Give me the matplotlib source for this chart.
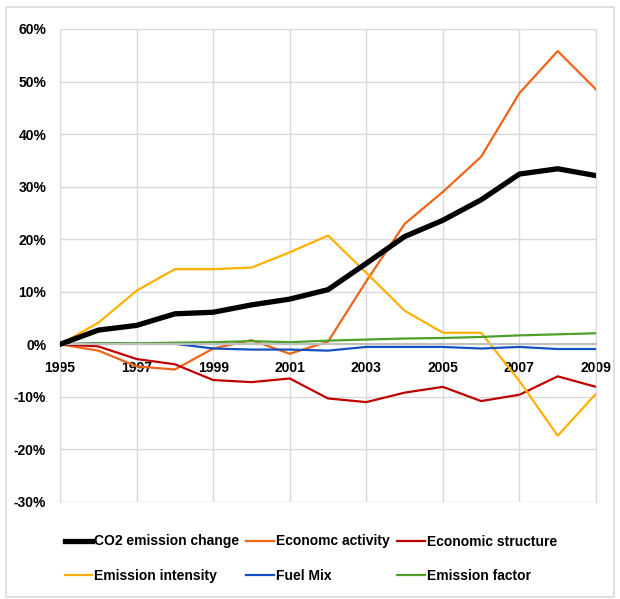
import matplotlib
matplotlib.use('Agg')
import matplotlib.pyplot as plt
from matplotlib.ticker import FuncFormatter
from matplotlib.patches import Rectangle

plt.rcParams['font.family'] = ['Liberation Sans', 'DejaVu Sans']
plt.rcParams['font.weight'] = 'bold'

# data (percent change vs 1995)
years = list(range(1995, 2010))
co2_change = [0, 2.7, 3.6, 5.8, 6.1, 7.5, 8.6, 10.4, 15.4, 20.5, 23.6, 27.5, 32.4, 33.4, 32.1]
econ_activity = [0, -1.2, -4.2, -4.8, -0.8, 0.8, -1.8, 0.5, 12.0, 22.9, 29.0, 35.7, 47.8, 55.8, 48.5]
econ_structure = [0, -0.4, -2.8, -3.8, -6.8, -7.2, -6.5, -10.3, -11.0, -9.2, -8.1, -10.8, -9.6, -6.1, -8.1]
emission_intensity = [0, 4.1, 10.2, 14.3, 14.3, 14.6, 17.5, 20.7, 13.6, 6.4, 2.2, 2.2, -7.0, -17.4, -9.4]
fuel_mix = [0, 0.2, 0.1, 0.1, -0.8, -1.0, -1.0, -1.2, -0.5, -0.5, -0.5, -0.8, -0.5, -0.9, -0.9]
emission_factor = [0, 0.2, 0.2, 0.3, 0.4, 0.6, 0.4, 0.7, 0.9, 1.1, 1.2, 1.4, 1.7, 1.9, 2.1]

fig = plt.figure(figsize=(6.2, 5.99), dpi=100)
ax = fig.add_axes([0.0968, 0.162, 0.8645, 0.7896])

l_co2, = ax.plot(years, co2_change, color='black', lw=3.8, label='CO2 emission change', zorder=5)
l_act, = ax.plot(years, econ_activity, color='#EE6418', lw=1.6, label='Economc activity')
l_str, = ax.plot(years, econ_structure, color='#C00000', lw=1.6, label='Economic structure')
l_int, = ax.plot(years, emission_intensity, color='#FFB000', lw=1.6, label='Emission intensity')
l_fuel, = ax.plot(years, fuel_mix, color='#1450C0', lw=1.6, label='Fuel Mix')
l_fac, = ax.plot(years, emission_factor, color='#4EA02A', lw=1.6, label='Emission factor')

ax.set_xlim(1995, 2009)
ax.set_ylim(-30, 60)
ax.set_xticks(range(1995, 2010, 2))
ax.set_yticks(range(-30, 61, 10))
ax.yaxis.set_major_formatter(FuncFormatter(lambda v, p: f'{int(v)}%'))
ax.grid(True, color='#D9D9D9', lw=1)
ax.set_axisbelow(True)
for s in ['top', 'right', 'left']:
    ax.spines[s].set_color('#D9D9D9')
ax.spines['bottom'].set_position(('data', 0))
ax.spines['bottom'].set_color('#BFBFBF')
ax.spines['bottom'].set_linewidth(1.5)
ax.tick_params(axis='both', length=0, labelsize=10)
ax.tick_params(axis='x', pad=12)
ax.tick_params(axis='y', pad=10)

handles = [l_co2, l_int, l_act, l_fuel, l_str, l_fac]
fig.legend(handles=handles, labels=[h.get_label() for h in handles], ncol=3,
           loc='upper left', bbox_to_anchor=(52 / 620, 1 - 522 / 599), frameon=False, fontsize=10,
           handlelength=2.0, handletextpad=0.15, columnspacing=0.5, labelspacing=1.45)

fig.patches.append(Rectangle((6 / 620, 2 / 599), 608 / 620, 590 / 599, transform=fig.transFigure,
                             fill=False, edgecolor='#D9D9D9', lw=1.2))

fig.savefig('out.png', dpi=100)
